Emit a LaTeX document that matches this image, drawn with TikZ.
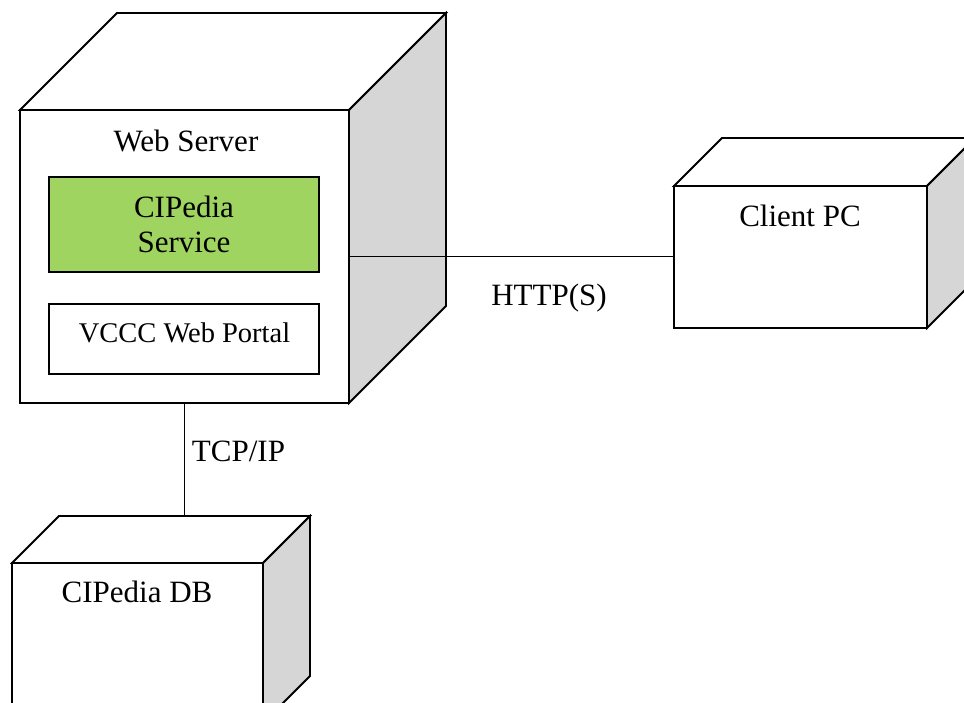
\documentclass[tikz,border=0pt]{standalone}
\usepackage{fontspec}
\setmainfont{Liberation Serif}
\usetikzlibrary{calc}

\definecolor{sidegray}{RGB}{214,214,214}
\definecolor{svcgreen}{RGB}{160,212,96}

\tikzset{
  x=1pt, y=-1pt,
  edge/.style={line width=1.8pt, line join=miter},
  front/.style={edge, draw=black, fill=white, rectangle, inner sep=0pt, outer sep=0pt},
  sideface/.style={edge, draw=black, fill=sidegray},
  topface/.style={edge, draw=black, fill=white},
  inbox/.style={line width=1.6pt, draw=black, rectangle, inner sep=0pt, outer sep=0pt},
  big/.style={font=\fontsize{31}{35}\selectfont, inner sep=0pt, anchor=base},
  small/.style={font=\fontsize{28.5}{33}\selectfont, inner sep=0pt, anchor=base},
  wire/.style={line width=1.5pt},
}

\begin{document}
\begin{tikzpicture}
\useasboundingbox (0,0) rectangle (964,702);
\clip (0,0) rectangle (964,702);

% ---------- Web server node (cube) ----------
\node[front, minimum width=329pt, minimum height=293pt] (ws) at (184.5,256.5) {};
\draw[topface] (ws.north west) -- ++(97,-97) -- ($(ws.north east)+(97,-97)$) -- (ws.north east) -- cycle;
\draw[sideface] (ws.north east) -- ++(97,-97) -- ($(ws.south east)+(97,-97)$) -- (ws.south east) -- cycle;
\node[front, minimum width=329pt, minimum height=293pt] at (ws.center) {};
\node[big] (wslabel) at (186,151) {Web Server};

\node[inbox, fill=svcgreen, minimum width=270pt, minimum height=95pt] (svc) at (184,224.5) {};
\node[big] (svcA) at (184,217) {CIPedia};
\node[big] (svcB) at (184,252) {Service};

\node[inbox, fill=white, minimum width=270pt, minimum height=70pt] (portal) at (184,339) {};
\node[small] (portallabel) at (184.5,342) {VCCC Web Portal};

% ---------- Client PC node (cube) ----------
\node[front, minimum width=253pt, minimum height=142pt] (pc) at (800.5,257) {};
\draw[topface] (pc.north west) -- ++(48,-48) -- ($(pc.north east)+(48,-48)$) -- (pc.north east) -- cycle;
\draw[sideface] (pc.north east) -- ++(48,-48) -- ($(pc.south east)+(48,-48)$) -- (pc.south east) -- cycle;
\node[front, minimum width=253pt, minimum height=142pt] at (pc.center) {};
\node[big] (pclabel) at (800,226) {Client PC};

% ---------- Database node (cube) ----------
\node[front, minimum width=251pt, minimum height=160pt] (db) at (137.5,643) {};
\draw[topface] (db.north west) -- ++(47,-47) -- ($(db.north east)+(47,-47)$) -- (db.north east) -- cycle;
\draw[sideface] (db.north east) -- ++(47,-47) -- ($(db.south east)+(47,-47)$) -- (db.south east) -- cycle;
\node[front, minimum width=251pt, minimum height=160pt] at (db.center) {};
\node[big] (dblabel) at (137,602) {CIPedia DB};
\coordinate (dbback) at ($(db.north west)+(47,-47)$);

% ---------- Connectors ----------
\draw[wire] (ws.east) -- (ws.east -| pc.west);
\node[big] (httplabel) at (549,305) {HTTP(S)};

\draw[wire] (ws.south) -- (ws.south |- dbback);
\node[big] (tcplabel) at (238.5,461) {TCP/IP};
\end{tikzpicture}
\end{document}
